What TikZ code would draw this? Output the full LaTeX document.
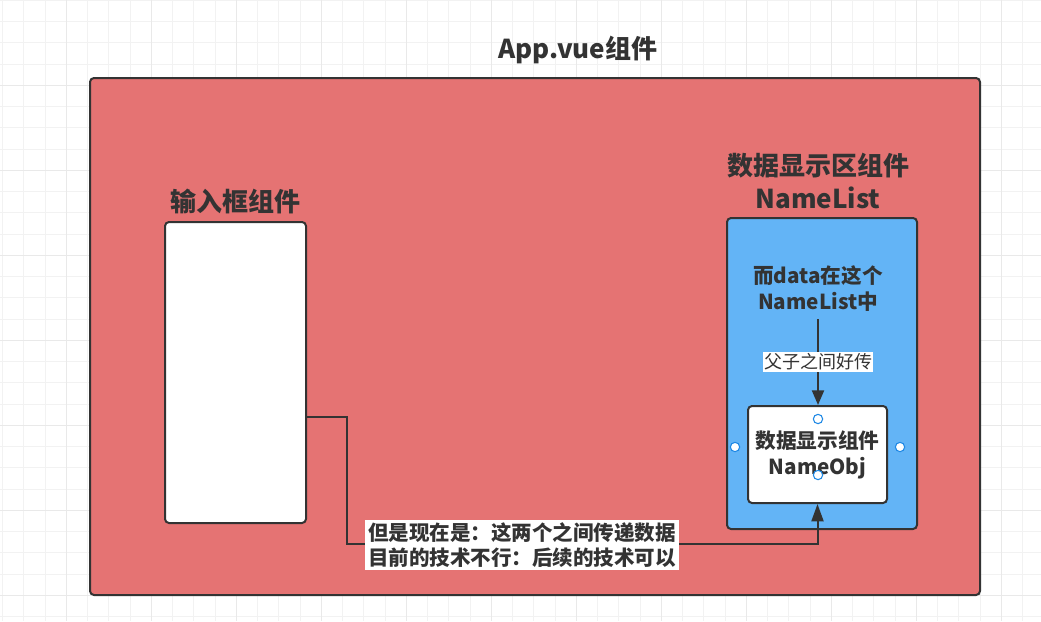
\documentclass[tikz,border=0pt]{standalone}
\usepackage{fontspec}
\setmainfont{Noto Sans CJK SC}
\usetikzlibrary{arrows.meta}

\definecolor{gridminor}{HTML}{F2F2F2}
\definecolor{gridmajor}{HTML}{E9E9E9}
\definecolor{appred}{HTML}{E57373}
\definecolor{listblue}{HTML}{63B4F6}
\definecolor{inkgray}{HTML}{333333}
\definecolor{handleblue}{HTML}{1E88E5}

\tikzset{
  box/.style={draw=inkgray, line width=1.5pt, rounded corners=3pt, inner sep=0pt},
  heading/.style={text=inkgray, font=\bfseries\fontsize{19.5}{25}\selectfont, align=center},
  boxtext/.style={text=inkgray, font=\bfseries\fontsize{15.5}{19.5}\selectfont, align=center},
  passlabel/.style={fill=white, text=inkgray, inner sep=1pt, font=\fontsize{13.5}{16}\selectfont},
  note/.style={fill=white, text=inkgray, inner sep=2pt, font=\bfseries\fontsize{15.4}{18.75}\selectfont, align=left},
  wire/.style={draw=inkgray, line width=1.5pt},
  handle/.style={circle, draw=handleblue, fill=white, line width=0.8pt, minimum size=7pt, inner sep=0pt},
}

\begin{document}
\begin{tikzpicture}[x=0.75pt, y=-0.75pt]
    \useasboundingbox (0,0) rectangle (1041,621);
    % Grid
    \fill[white] (0,0) rectangle (1041,621);
    \foreach \x in {2.7, 23.95,...,1041}
    \draw[gridminor, line width=0.75pt] (\x,0) -- (\x,621);
    \foreach \y in {0.3, 21.55,...,621}
    \draw[gridminor, line width=0.75pt] (0,\y) -- (1041,\y);
    \foreach \x in {66.45, 151.45,...,1041}
    \draw[gridmajor, line width=0.75pt] (\x,0) -- (\x,621);
    \foreach \y in {85.3, 170.3,...,621}
    \draw[gridmajor, line width=0.75pt] (0,\y) -- (1041,\y);

    % Boxes
    \node[box, fill=appred, minimum width=667.5pt, minimum height=387.75pt] (app) at (535,336.5) {};
    \node[box, fill=white, minimum width=105.75pt, minimum height=225.75pt] (input) at (235.5,372.5) {};
    \node[box, fill=listblue, minimum width=142.5pt, minimum height=233.25pt] (namelist) at (822,373.5) {};
    \node[box, fill=white, boxtext, minimum width=104.25pt, minimum height=72.75pt] (nameobj) at (817.5,454.5) {数据显示组件\\NameObj};

    % Titles
    \node[heading] (apptitle) at (578,50) {App.vue组件};
    \node[heading] (inputtitle) at (235,201) {输入框组件};
    \node[heading] (listtitle) at (818,181) {数据显示区组件\\NameList};
    \node[boxtext] (datanote) at (818,289) {而data在这个\\NameList中};

    % Parent to child
    \coordinate (datafoot) at (818,319);
    \draw[wire, -{Triangle[length=11pt, width=9pt]}] (datafoot) -- node[passlabel] (passnote) {父子之间好传} (datafoot |- nameobj.north);

    % Sibling path
    \coordinate (inputport) at (306,417);
    \coordinate (bend) at (347,544);
    \draw[wire, -{Triangle[length=13pt, width=9pt]}] (inputport) -| (bend) -| (nameobj.south);
    \node[note] (blocked) at (522,545) {但是现在是：这两个之间传递数据\\目前的技术不行：后续的技术可以};

    % Handles
    \node[handle] (handletop) at (818,419) {};
    \node[handle] (handlebottom) at (818,475) {};
    \node[handle] (handleleft) at (735,447) {};
    \node[handle] (handleright) at (900,447) {};
\end{tikzpicture}
\end{document}
